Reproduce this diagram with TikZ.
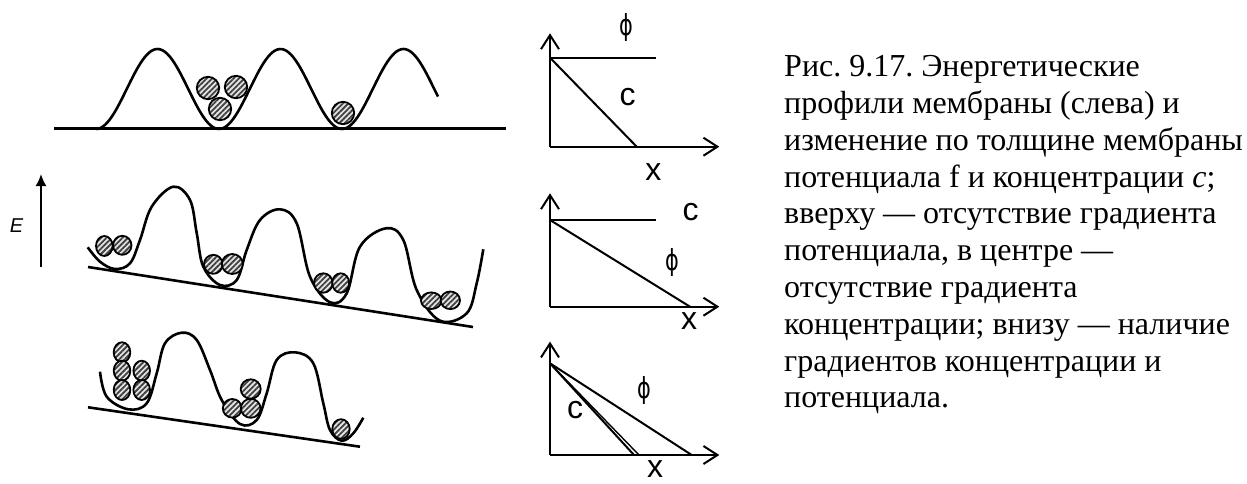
\documentclass[tikz,border=0pt]{standalone}
\usepackage{fontspec}
\setmainfont{Liberation Serif}
\newfontfamily\grfont{Liberation Sans}
\newfontfamily\phifont{DejaVu Sans}
\usetikzlibrary{arrows.meta,patterns.meta}
\definecolor{hatch}{gray}{0.25}

\begin{document}
\frenchspacing
\begin{tikzpicture}[x=1pt, y=-1pt,
  prof/.style={line width=2.6pt, line join=round},
  ball/.style={draw, line width=1.8pt, preaction={fill=gray!20},
               pattern={Lines[angle=45, distance=3.8pt, line width=1.8pt]}, pattern color=hatch},
  ax/.style={line width=2pt, -{Straight Barb[length=14pt, width=18pt]}},
  gline/.style={line width=2pt},
  lbl/.style={font=\grfont\fontsize{32}{32}\selectfont, inner sep=0pt},
  phi/.style={font=\phifont\fontsize{29}{29}\selectfont, inner sep=0pt, xscale=0.72},
]
\useasboundingbox (0,0) rectangle (1247,484);

% Energy profile, top
\draw[prof] (54,128.3) -- (506,128.3);
\draw[prof] plot[domain=96:438, samples=150] (\x, {89+40*cos((\x-96)/123*360)});
\foreach \bx/\by in {208/88, 236/87, 220/109, 343/113}
  \draw[ball] (\bx,\by) circle [radius=11.2pt];

% Energy profile, middle
\node[font=\grfont\itshape\fontsize{20}{20}\selectfont, inner sep=0pt] (elbl) at (16.5,226) {E};
\coordinate (ebot) at (41,267);
\coordinate (etop) at (41,174);
\draw[line width=1.8pt, -{Latex[length=12pt, width=11pt]}] (ebot) -- (etop);
\draw[prof] (88,267) -- (473,327);
\draw[prof] plot[smooth, tension=0.6] coordinates {
  (87.7,247.3) (100,261.7) (115,269) (130,263.3) (140,240) (151.7,206.7)
  (173.3,186.7) (190,200) (196.7,233) (203.3,266.7) (220,285) (236.7,280)
  (246.7,250) (260,220) (280,209.3) (296.7,223.3) (310,276.7) (330,302.3)
  (346.7,293.3) (360,246.7) (386,228.3) (403.3,240) (416.7,290) (440,320.7)
  (466.7,313.3) (476.7,283.3) (483.3,249.3)};
\foreach \bx/\by/\rx/\ry in {104.3/246/8.3/10, 122.3/245.3/9.2/9.5,
    213.3/264.3/9.3/9.5, 232.3/264/10.5/10, 323.3/283/9.3/9.7, 340.7/283/8.5/9.7,
    431.3/300.7/10.3/8.3, 450.3/300.3/9.7/8.8}
  \draw[ball] (\bx,\by) ellipse [x radius=\rx pt, y radius=\ry pt];

% Energy profile, bottom
\draw[prof] (88,407.3) -- (360,446.7);
\draw[prof] plot[smooth, tension=0.6] coordinates {
  (100,371.7) (106.7,396.7) (128.3,409.3) (146.7,403.3) (156.7,373.3) (165,343.3)
  (181.7,332.7) (196.7,340) (210,370) (221.7,400) (240,424) (256.7,420)
  (266.7,393.3) (276.7,360) (295,352.3) (313.3,363.3) (323.3,403.3) (330,430)
  (341.7,440.7) (353.3,433.3) (363.3,417.7)};
\foreach \bx/\by/\rx/\ry in {122/352.3/8.3/10, 122/370.7/8.3/10, 122/390/8.3/10,
    141.7/370.7/8.3/10, 141.7/390/8.3/10, 250.7/389/10/9.7, 232.3/408.3/9.5/9.3,
    250.7/408.3/9.8/9.5, 341/429/8.7/9.8}
  \draw[ball] (\bx,\by) ellipse [x radius=\rx pt, y radius=\ry pt];

% Graph 1: no potential gradient
\coordinate (o1) at (550,146.7);
\draw[ax] (o1) -- ++(0,-113.4);
\draw[ax] (o1) -- ++(169.3,0);
\draw[gline] (550,57.7) -- (656,57.7);
\draw[gline] (550,57.7) -- (636.7,146.7);
\node[phi] (phi1) at (626.7,27.5) {ϕ};
\node[lbl] (c1) at (627.7,96.7) {c};
\node[lbl] (x1) at (653.3,171.7) {x};

% Graph 2: no concentration gradient
\coordinate (o2) at (550,306.7);
\draw[ax] (o2) -- ++(0,-113.4);
\draw[ax] (o2) -- ++(169.3,0);
\draw[gline] (550,220) -- (656,220);
\draw[gline] (550,220) -- (690,306.7);
\node[lbl] (c2) at (690.7,211.7) {c};
\node[phi] (phi2) at (672.7,262) {ϕ};
\node[lbl] (x2) at (689,321) {x};

% Graph 3: both gradients
\coordinate (o3) at (550,455);
\draw[ax] (o3) -- ++(0,-113.4);
\draw[ax] (o3) -- ++(169.3,0);
\draw[gline] (550,363.3) -- (691.7,455);
\draw[gline] (550,363.3) -- (634,455);
\draw[line width=1.4pt] (550,363.3) -- (639,455);
\node[phi] (phi3) at (644,390) {ϕ};
\node[lbl] (c3) at (575,410) {c};
\node[lbl] (x3) at (655,469) {x};

% Caption
\node[anchor=north west, inner sep=0pt, align=left,
      font=\fontsize{32}{36.8}\selectfont] (cap) at (784,55.4)
  {Рис. 9.17. Энергетические\\
   профили мембраны (слева) и\\
   изменение по толщине мембраны\\
   потенциала f и концентрации \textit{c};\\
   вверху — отсутствие градиента\\
   потенциала, в центре —\\
   отсутствие градиента\\
   концентрации; внизу — наличие\\
   градиентов концентрации и\\
   потенциала.};
\end{tikzpicture}
\end{document}
